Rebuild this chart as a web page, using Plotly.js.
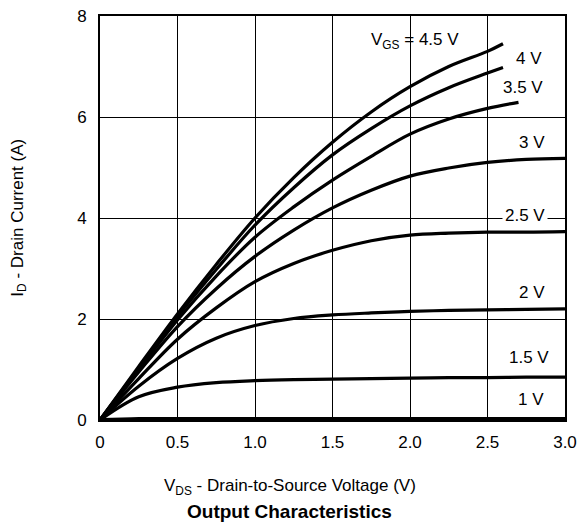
<!DOCTYPE html>
<html>
<head>
<meta charset="utf-8">
<script src="https://cdn.plot.ly/plotly-3.0.1.min.js"></script>
<style>html,body{margin:0;padding:0;background:#fff;}#chart{width:579px;height:525px;}</style>
</head>
<body>
<div id="chart"></div>
<script>
// V_DS sample points (V)
const vdsLong  = [0, 0.25, 0.5, 0.75, 1.0, 1.25, 1.5, 1.75, 2.0, 2.25, 2.5, 2.75, 3.0];
const vds45    = [0, 0.25, 0.5, 0.75, 1.0, 1.25, 1.5, 1.75, 2.0, 2.25, 2.5, 2.6];
const vds40    = [0, 0.25, 0.5, 0.75, 1.0, 1.25, 1.5, 1.75, 2.0, 2.25, 2.5, 2.6];
const vds35    = [0, 0.25, 0.5, 0.75, 1.0, 1.25, 1.5, 1.75, 2.0, 2.25, 2.5, 2.7];

// I_D values (A) per V_GS
const id45 = [0, 1.06, 2.10, 3.08, 4.00, 4.80, 5.50, 6.10, 6.60, 7.00, 7.30, 7.45];
const id40 = [0, 1.03, 2.05, 2.98, 3.86, 4.60, 5.25, 5.77, 6.22, 6.58, 6.87, 6.98];
const id35 = [0, 1.00, 1.98, 2.85, 3.62, 4.22, 4.75, 5.22, 5.66, 5.96, 6.17, 6.29];
const id30 = [0, 0.95, 1.85, 2.60, 3.24, 3.76, 4.20, 4.55, 4.83, 4.99, 5.10, 5.16, 5.18];
const id25 = [0, 0.82, 1.60, 2.22, 2.74, 3.10, 3.36, 3.55, 3.66, 3.70, 3.72, 3.72, 3.73];
const id20 = [0, 0.67, 1.22, 1.62, 1.87, 2.01, 2.08, 2.12, 2.15, 2.17, 2.18, 2.19, 2.20];
const id15 = [0, 0.46, 0.65, 0.74, 0.78, 0.80, 0.81, 0.82, 0.83, 0.84, 0.84, 0.85, 0.85];
const id10 = [0, 0.02, 0.02, 0.02, 0.02, 0.02, 0.02, 0.02, 0.02, 0.02, 0.02, 0.02, 0.02];

// Tick labels
const xTickVals = [0, 0.5, 1.0, 1.5, 2.0, 2.5, 3.0];
const xTickText = ['0', '0.5', '1.0', '1.5', '2.0', '2.5', '3.0'];
const yTickVals = [0, 2, 4, 6, 8];
const yTickText = ['0', '2', '4', '6', '8'];

// Curve labels
const labelText = ['V<sub>GS</sub> = 4.5 V', '4 V', '3.5 V', '3 V', '2.5 V', '2 V', '1.5 V', '1 V'];
const labelX    = [2.035, 2.77, 2.726, 2.79, 2.745, 2.785, 2.765, 2.78];
const labelY    = [7.51, 7.16, 6.59, 5.50, 4.04, 2.53, 1.24, 0.40];

const FONT = 'Liberation Sans, Arial, Helvetica, sans-serif';
const FS = 17;

function curve(x, y, w) {
  return {x: x, y: y, type: 'scatter', mode: 'lines',
          line: {color: '#000', width: w, shape: 'spline', smoothing: 1},
          hoverinfo: 'skip', showlegend: false, cliponaxis: false};
}

const data = [
  curve(vds45, id45, 3.2),
  curve(vds40, id40, 3.2),
  curve(vds35, id35, 3.2),
  curve(vdsLong, id30, 3.2),
  curve(vdsLong, id25, 3.2),
  curve(vdsLong, id20, 3.2),
  curve(vdsLong, id15, 3.2),
  curve(vdsLong, id10, 4)
];

const annotations = labelText.map((t, i) => ({
  x: labelX[i], y: labelY[i], xref: 'x', yref: 'y', text: t, showarrow: false,
  font: {family: FONT, size: FS, color: '#000'},
  bgcolor: i === 4 ? '#fff' : 'rgba(0,0,0,0)',
  borderpad: i === 4 ? 2 : 0,
  xanchor: 'center', yanchor: 'middle'
}));

annotations.push({
  xref: 'paper', yref: 'paper', x: 0.408, y: -0.166, text: 'V<sub>DS</sub> - Drain-to-Source Voltage (V)',
  showarrow: false, font: {family: FONT, size: FS, color: '#000'}, xanchor: 'center', yanchor: 'middle'
});
annotations.push({
  xref: 'paper', yref: 'paper', x: 0.408, y: -0.226, text: '<b>Output Characteristics</b>',
  showarrow: false, font: {family: FONT, size: 19, color: '#000'}, xanchor: 'center', yanchor: 'middle'
});
annotations.push({
  xref: 'paper', yref: 'paper', x: -0.175, y: 0.5, text: 'I<sub>D</sub> - Drain Current (A)',
  textangle: -90, showarrow: false, font: {family: FONT, size: FS, color: '#000'},
  xanchor: 'center', yanchor: 'middle'
});

const layout = {
  width: 579, height: 525,
  margin: {l: 100, r: 14, t: 16, b: 105, pad: 0},
  paper_bgcolor: '#fff', plot_bgcolor: '#fff',
  font: {family: FONT, size: FS, color: '#000'},
  xaxis: {
    range: [0, 3.0], tickvals: xTickVals, ticktext: xTickText,
    showgrid: true, gridcolor: '#000', gridwidth: 1,
    zeroline: false, showline: true, mirror: true, linecolor: '#000', linewidth: 2,
    ticks: '', ticklen: 0, ticklabelstandoff: 6,
    tickfont: {family: FONT, size: FS, color: '#000'}
  },
  yaxis: {
    range: [0, 8], tickvals: yTickVals, ticktext: yTickText,
    showgrid: true, gridcolor: '#000', gridwidth: 1,
    zeroline: false, showline: true, mirror: true, linecolor: '#000', linewidth: 2,
    ticks: '', ticklen: 0, ticklabelstandoff: 8,
    tickfont: {family: FONT, size: FS, color: '#000'}
  },
  annotations: annotations,
  showlegend: false
};

Plotly.newPlot('chart', data, layout, {displayModeBar: false, staticPlot: true});
</script>
</body>
</html>
